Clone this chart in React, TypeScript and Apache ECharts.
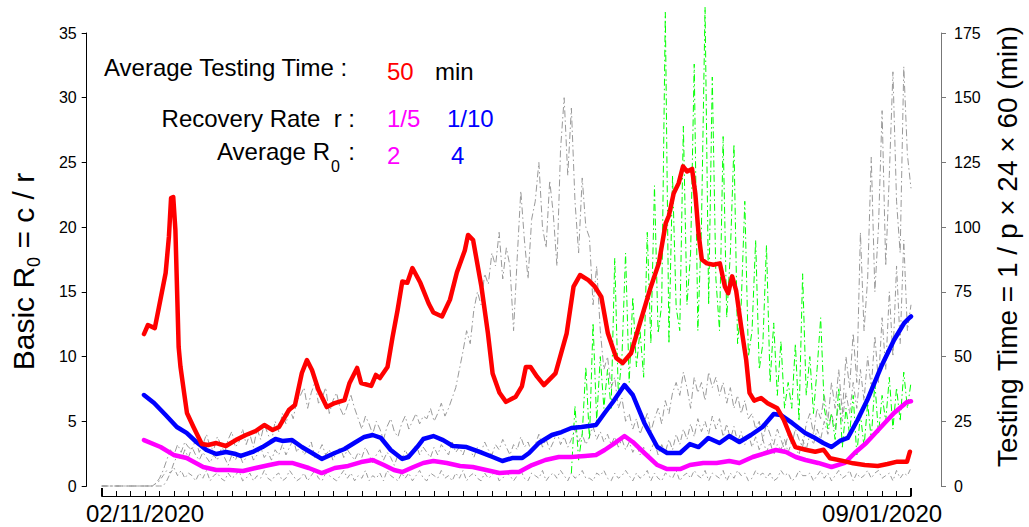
import React, { useEffect, useRef } from 'react';
import * as echarts from 'echarts';

const FONT = '"Liberation Sans", Arial, Helvetica, sans-serif';

// ---- axes ----
const dayMax = 224;
const xTickStep = 4;
const xTickLabels: { day: number; label: string }[] = [
  { day: 12, label: '02/11/2020' },
  { day: 216, label: '09/01/2020' },
];
const leftAxisMax = 35;
const leftAxisStep = 5;
const rightAxisMax = 175;
const rightAxisStep = 25;

// ---- R0 curves (left axis): [day, value] ----
const redR0: [number, number][] = [
  [11.7, 11.74], [12.8, 12.44], [14.7, 12.2], [15.8, 13.75], [17.7, 16.46], [18.6, 19.24], [19.2, 22.25], [19.8, 22.33],
  [20.4, 19.78], [21.3, 10.74], [21.8, 9.22], [22.7, 7.42], [23.6, 5.64], [25.4, 4.56], [27.7, 3.25], [29.5, 3.17],
  [31.7, 3.32], [34.4, 3.09], [37.1, 3.55], [39.9, 3.94], [42.6, 4.25], [45.0, 4.71], [47.3, 4.33], [49.1, 4.56],
  [51.8, 5.87], [53.5, 6.26], [55.4, 8.73], [56.8, 9.73], [58.2, 8.96], [60.0, 7.42], [62.3, 6.1], [64.5, 6.41],
  [67.2, 6.64], [68.6, 7.96], [70.7, 9.12], [71.8, 7.96], [74.6, 7.73], [75.9, 8.58], [77.0, 8.34], [79.1, 9.19],
  [80.5, 11.5], [81.9, 13.6], [83.2, 15.8], [84.6, 15.7], [86.0, 16.84], [88.2, 15.7], [90.5, 14.1], [91.8, 13.4],
  [94.2, 13.1], [96.4, 14.4], [98.3, 16.5], [100.5, 18.2], [101.4, 19.4], [102.8, 19.0], [105.1, 15.4], [106.9, 11.8],
  [108.2, 8.7], [110.1, 7.2], [111.9, 6.5], [114.6, 6.9], [116.3, 7.7], [117.4, 9.2], [118.7, 9.2], [120.5, 8.45],
  [122.4, 7.8], [125.6, 8.7], [128.7, 11.8], [130.6, 15.4], [132.4, 16.3], [134.7, 15.9], [136.5, 15.4], [138.3, 14.6],
  [140.1, 11.8], [142.4, 9.9], [144.2, 9.5], [146.5, 10.25], [149.2, 12.8], [152.0, 15.4], [154.2, 17.2], [156.1, 20.3],
  [157.0, 20.9], [158.3, 22.6], [159.7, 23.4], [160.9, 24.7], [162.0, 24.3], [163.4, 24.5], [164.3, 22.6], [165.2, 19.5],
  [166.1, 17.5], [167.5, 17.2], [169.3, 17.1], [171.1, 17.2], [172.5, 15.4], [173.4, 14.9], [174.5, 16.2], [175.6, 15.1],
  [177.0, 12.3], [178.4, 9.7], [179.3, 7.2], [180.6, 6.6], [182.5, 6.8], [184.3, 6.4], [187.0, 6.0], [188.8, 5.1],
  [190.7, 3.8], [192.0, 3.0], [194.8, 2.8], [197.5, 2.65], [199.8, 2.8], [201.6, 2.14], [204.8, 1.96], [208.0, 1.75],
  [211.2, 1.62], [214.8, 1.55], [217.5, 1.7], [220.2, 1.88], [222.9, 1.88], [223.7, 2.65],
];

const blueR0: [number, number][] = [
  [11.7, 7.03], [14.5, 6.41], [17.7, 5.49], [20.8, 4.56], [23.5, 4.1], [26.2, 3.4], [29.0, 2.78], [31.7, 2.47],
  [34.4, 2.63], [37.1, 2.47], [38.5, 2.32], [41.8, 2.63], [44.5, 3.01], [48.1, 3.63], [50.0, 3.48], [52.7, 3.55],
  [55.4, 3.01], [58.2, 2.55], [60.9, 2.09], [64.5, 2.55], [67.2, 2.86], [69.9, 3.32], [72.7, 3.79], [75.0, 3.94],
  [77.3, 3.71], [80.0, 2.78], [83.2, 2.09], [84.9, 2.24], [87.3, 3.01], [89.0, 3.63], [91.8, 3.86], [94.5, 3.55],
  [97.2, 3.09], [101.0, 3.01], [104.6, 2.63], [108.2, 2.24], [110.9, 1.93], [113.6, 2.16], [116.4, 2.16], [118.3, 2.55],
  [121.0, 3.32], [124.6, 3.94], [127.3, 4.17], [130.0, 4.48], [132.8, 4.56], [136.8, 4.71], [139.2, 5.64], [141.5, 6.49],
  [144.7, 7.8], [147.0, 7.03], [150.2, 4.87], [153.8, 3.01], [156.5, 2.55], [160.1, 2.55], [162.8, 3.24], [165.2, 3.01],
  [167.9, 3.71], [171.0, 3.32], [173.7, 3.86], [176.5, 3.4], [179.7, 3.94], [182.9, 4.56], [186.0, 5.56], [187.9, 5.49],
  [191.1, 4.87], [194.7, 4.1], [196.9, 3.79], [199.7, 3.32], [202.0, 3.01], [204.3, 3.48], [206.5, 3.71], [209.2, 5.1],
  [211.9, 6.64], [215.7, 9.19], [219.3, 11.28], [222.1, 12.59], [223.5, 12.98], [224.0, 13.1],
];

const magentaR0: [number, number][] = [
  [11.7, 3.55], [16.3, 3.01], [19.9, 2.4], [23.5, 2.16], [28.1, 1.47], [31.7, 1.24], [35.4, 1.24], [39.1, 1.16],
  [42.6, 1.39], [46.4, 1.62], [49.1, 1.78], [52.7, 1.78], [57.3, 1.39], [60.9, 1.0], [64.5, 1.39], [68.2, 1.55],
  [71.8, 1.85], [75.0, 2.01], [78.1, 1.62], [80.9, 1.24], [83.2, 1.08], [86.3, 1.47], [89.0, 1.78], [91.8, 1.93],
  [95.5, 1.78], [99.2, 1.55], [102.7, 1.47], [106.4, 1.24], [110.1, 1.0], [113.6, 1.08], [115.5, 1.08], [119.1, 1.62],
  [122.8, 2.01], [126.5, 2.24], [130.0, 2.24], [133.8, 2.32], [136.8, 2.4], [139.2, 2.78], [142.0, 3.32], [144.7, 3.86],
  [147.0, 3.4], [150.2, 2.55], [153.8, 1.62], [156.5, 1.31], [160.1, 1.31], [162.8, 1.62], [166.5, 1.78], [170.2, 1.78],
  [173.7, 1.93], [176.5, 1.78], [180.2, 2.24], [183.8, 2.55], [186.6, 2.78], [189.4, 2.63], [192.1, 2.24], [194.8, 2.01],
  [198.3, 1.78], [202.0, 1.47], [205.7, 1.78], [208.4, 2.55], [211.6, 3.32], [215.7, 4.56], [219.3, 5.64], [222.9, 6.49],
  [224.0, 6.55],
];

// ---- testing times (right axis, minutes), daily from day 0 ----
const grayTestA: number[] = [
  0, 0, 0, 0, 0, 0, 0, 0, 0, 0, 0, 0, 0, 0, 0,
  1, 3, 6, 10, 14, 12, 16, 13, 17, 15,
  14, 18, 13, 16, 20, 15, 14, 19, 16, 13, 18, 21, 15, 17, 22,
  16, 20, 15, 22, 18, 24, 20, 17, 25, 21, 28, 24, 30, 26, 33,
  35, 38, 30, 36, 40, 32, 34, 38, 28, 33, 36, 30, 27, 31, 35,
  30, 26, 22, 27, 24, 20, 25, 22, 18, 23, 26, 21, 19, 24, 27, 22, 25, 28, 24, 27,
  26, 30, 25, 28, 32, 27, 30, 34, 38, 45,
  52, 60, 55, 68, 75, 70, 82, 78, 90, 85,
  98, 80, 92, 85, 60, 88, 114, 95, 80, 103,
  110, 125, 100, 92, 118, 105, 85, 130, 150, 120,
  146, 110, 90, 119, 100, 96, 70, 85, 60, 45,
  50, 38, 42, 30, 34, 25, 28, 22, 26, 20,
  24, 28, 21, 26, 30, 24, 33, 28, 36, 40,
  35, 44, 38, 30, 42, 36, 40, 33, 44, 38,
  42, 35, 40, 32, 38, 30, 35, 28, 33, 26,
  28, 22, 25, 18, 24, 20, 16, 22, 18, 14,
  20, 16, 22, 18, 15, 24, 28, 20, 30, 26,
  35, 25, 40, 30, 45, 28, 50, 38, 59, 40,
  98, 60, 80, 127, 75, 100, 145, 85, 120, 160,
  110, 90, 162, 128, 115,
];

const grayTestB: number[] = [
  0, 0, 0, 0, 0, 0, 0, 0, 0, 0, 0, 0, 0, 0, 0, 0, 0, 0,
  2, 5, 9, 12, 10, 14, 11, 15, 12, 10, 13, 11,
  9, 12, 10, 14, 11, 8, 12, 10, 13, 9, 11, 14, 10, 12, 15, 11, 13, 10, 14, 12,
  16, 12, 15, 18, 13, 16, 12, 14, 17, 11, 13, 16, 12, 14, 10, 13, 15, 11, 14, 12,
  10, 13, 11, 15, 12, 9, 12, 14, 10, 13, 11, 8, 12, 10, 14, 11, 13, 16, 12, 15,
  13, 11, 15, 12, 16, 14, 12, 17, 13, 15, 12, 16, 14, 11, 15, 13, 17, 14, 12, 16,
  14, 18, 15, 12, 16, 14, 19, 15, 17, 13, 16, 20, 15, 18, 14, 17, 21, 16, 19, 15,
  18, 22, 17, 20, 16, 19, 23, 18, 21, 17, 20, 16, 19, 15, 18, 14, 17, 13, 16, 12,
  15, 11, 14, 17, 12, 16, 13, 18, 14, 20, 16, 22, 18, 24, 19, 26, 21, 25, 20, 27,
  22, 26, 19, 24, 18, 23, 17, 21, 16, 20, 15, 19, 14, 18, 13, 17, 12, 16, 14, 18,
  13, 17, 15, 12, 18, 14, 20, 16, 22, 18, 25, 20, 28, 22, 32, 25, 36, 28, 40, 30,
  45, 33, 50, 38, 58, 40, 65, 45, 75, 50, 85, 55, 95, 60, 70,
];

const grayTestC: number[] = [
  0, 0, 0, 0, 0, 0, 0, 0, 0, 0, 0, 0, 0, 0, 0,
  1, 2, 4, 6, 5, 7, 4, 6, 3, 5,
  4, 2, 5, 3, 6, 2, 4, 5, 3, 2,
  5, 3, 4, 6, 2, 3, 5, 2, 4, 3,
  6, 3, 2, 4, 5, 2, 3, 6, 4, 2,
  3, 5, 2, 4, 6, 3, 2, 5, 4, 3,
  2, 4, 6, 3, 5, 2, 4, 3, 6, 2,
  4, 3, 5, 2, 6, 4, 3, 2, 5, 3,
  5, 2, 4, 6, 3, 2, 5, 4, 3, 6,
  3, 4, 2, 5, 3, 6, 2, 4, 5, 3,
  2, 5, 3, 4, 6, 2, 3, 5, 4, 2,
  4, 6, 3, 2, 5, 4, 3, 6, 2, 4,
  5, 3, 6, 4, 2, 5, 3, 4, 6, 3,
  3, 2, 5, 4, 6, 3, 2, 5, 3, 4,
  6, 4, 2, 5, 3, 4, 6, 2, 5, 3,
  2, 5, 4, 3, 6, 2, 4, 5, 3, 6,
  4, 3, 6, 2, 5, 4, 3, 6, 2, 5,
  3, 6, 4, 5, 2, 3, 6, 4, 5, 3,
  5, 2, 3, 6, 4, 5, 2, 3, 6, 4,
  4, 5, 2, 4, 6, 3, 5, 2, 4, 6,
  3, 4, 6, 2, 5, 3, 4, 6, 3, 5,
  6, 3, 4, 5, 2, 6, 3, 5, 4, 7,
];

const greenStartDay = 130;
const greenTest: number[] = [
  5, 31, 10, 20, 46, 18, 63, 25, 50, 30,
  45, 30, 88, 35, 50, 90, 40, 73, 46, 60,
  42, 98, 55, 116, 59, 70, 183, 55, 120, 69,
  60, 139, 70, 90, 163, 60, 100, 185, 70, 158,
  80, 60, 135, 65, 90, 132, 55, 70, 110, 50,
  60, 95, 45, 55, 93, 40, 63, 35, 56, 30,
  40, 30, 55, 25, 82, 35, 50, 28, 45, 65,
  30, 22, 28, 18, 38, 15, 30, 20, 35, 12,
  28, 15, 32, 18, 40, 20, 35, 25, 42, 22,
  38, 25, 44, 30, 40,
];

// ---- annotation texts ----
const testingTimeLabel = 'Average Testing Time :';
const testingTimeValue = '50';
const testingTimeUnit = 'min';
const recoveryLabel = 'Recovery Rate  r :';
const recoveryValues = ['1/5', '1/10'];
const r0Label = 'Average R';
const r0Sub = '0';
const r0Values = ['2', '4'];

const leftTitle = '{a|Basic R}{s|0}{a| = c / r}';
const rightTitle = 'Testing Time = 1 / p \u00d7 24 \u00d7 60 (min)';

function txt(text: string, x: number, y: number, size: number, color: string, align: string = 'left') {
  return {
    type: 'text',
    x,
    y,
    silent: true,
    style: {
      text,
      fill: color,
      font: `${size}px ${FONT}`,
      fontSize: size,
      fontFamily: FONT,
      textAlign: align,
      align,
      textVerticalAlign: 'middle',
      verticalAlign: 'middle',
    },
  };
}

export default function App() {
  const ref = useRef<HTMLDivElement>(null);

  useEffect(() => {
    if (!ref.current) return;
    const chart = echarts.init(ref.current, undefined, { renderer: 'svg' });

    const daily = (arr: number[], start = 0) => arr.map((v, i) => [start + i, v]);
    const grayLine = (name: string, arr: number[], dash: number[]) => ({
      name,
      type: 'line',
      xAxisIndex: 0,
      yAxisIndex: 1,
      data: daily(arr),
      symbol: 'none',
      clip: false,
      lineStyle: { color: '#9a9a9a', width: 1, type: dash },
      z: 2,
    });
    const thick = (name: string, data: [number, number][], color: string, z: number) => ({
      name,
      type: 'line',
      xAxisIndex: 0,
      yAxisIndex: 0,
      data,
      symbol: 'none',
      clip: false,
      lineStyle: { color, width: 4.5, cap: 'round', join: 'round' },
      z,
    });

    chart.setOption({
      animation: false,
      backgroundColor: '#ffffff',
      textStyle: { fontFamily: FONT },
      grid: { left: 97, right: 112, top: 33, bottom: 41, containLabel: false },
      xAxis: [
        {
          type: 'value',
          position: 'bottom',
          min: 0,
          max: dayMax,
          interval: xTickStep,
          offset: 10,
          axisLine: { show: true, onZero: false, lineStyle: { color: '#000', width: 1.2 } },
          axisTick: { show: true, inside: true, length: 5, lineStyle: { color: '#000', width: 1 } },
          axisLabel: {
            show: true,
            margin: 5,
            fontSize: 24,
            fontFamily: FONT,
            color: '#000',
            formatter: (v: number) => {
              const t = xTickLabels.find((l) => l.day === v);
              return t ? t.label : '';
            },
          },
          splitLine: { show: false },
        },
        {
          type: 'value',
          position: 'bottom',
          min: 0,
          max: dayMax,
          interval: dayMax,
          offset: 10,
          axisLine: { show: false, onZero: false },
          axisTick: { show: true, inside: true, length: 8, lineStyle: { color: '#000', width: 2 } },
          axisLabel: { show: false },
          splitLine: { show: false },
        },
      ],
      yAxis: [
        {
          type: 'value',
          position: 'left',
          min: 0,
          max: leftAxisMax,
          interval: leftAxisStep,
          offset: 15,
          name: leftTitle,
          nameLocation: 'middle',
          nameRotate: 90,
          nameGap: 35,
          nameTextStyle: {
            color: '#000',
            fontFamily: FONT,
            padding: [0, 24, 0, 0],
            rich: {
              a: { fontSize: 30, lineHeight: 30, fontFamily: FONT, color: '#000', padding: [0, 0, 10, 0] },
              s: { fontSize: 18, lineHeight: 18, fontFamily: FONT, color: '#000', verticalAlign: 'bottom' },
            },
          },
          axisLine: { show: true, onZero: false, lineStyle: { color: '#000', width: 1 } },
          axisTick: { show: true, inside: false, length: 5, lineStyle: { color: '#000' } },
          axisLabel: { margin: 10, fontSize: 16, fontFamily: FONT, color: '#000' },
          splitLine: { show: false },
        },
        {
          type: 'value',
          position: 'right',
          min: 0,
          max: rightAxisMax,
          interval: rightAxisStep,
          offset: 30,
          name: rightTitle,
          nameLocation: 'middle',
          nameRotate: 90,
          nameGap: 52,
          nameTextStyle: { color: '#000', fontSize: 28, fontFamily: FONT, padding: [0, 0, 0, 26] },
          axisLine: { show: true, onZero: false, lineStyle: { color: '#777', width: 1 } },
          axisTick: { show: true, inside: false, length: 5, lineStyle: { color: '#777' } },
          axisLabel: { margin: 13, fontSize: 16, fontFamily: FONT, color: '#000' },
          splitLine: { show: false },
        },
      ],
      series: [
        grayLine('Testing time C', grayTestC, [5, 3, 1.5, 3]),
        grayLine('Testing time B', grayTestB, [6, 3, 1.5, 3]),
        grayLine('Testing time A', grayTestA, [7, 3, 1.5, 3]),
        {
          name: 'Testing time (green)',
          type: 'line',
          xAxisIndex: 0,
          yAxisIndex: 1,
          data: daily(greenTest, greenStartDay),
          symbol: 'none',
          clip: false,
          lineStyle: { color: '#00ff00', width: 1, type: [7, 3, 1.5, 3] },
          z: 3,
        },
        thick('R0 r=1/5', magentaR0, '#ff00ff', 4),
        thick('R0 r=1/10', blueR0, '#0000ff', 5),
        thick('R0 (50 min)', redR0, '#ff0000', 6),
      ],
      graphic: [
        txt(testingTimeLabel, 104, 67, 24, '#000'),
        txt(testingTimeValue, 387, 71, 24, '#ff0000'),
        txt(testingTimeUnit, 435, 71, 24, '#000'),
        txt(recoveryLabel, 355, 118, 24, '#000', 'right'),
        txt(recoveryValues[0], 387, 118, 24, '#ff00ff'),
        txt(recoveryValues[1], 447, 118, 24, '#0000ff'),
        txt(r0Label, 217, 151, 24, '#000'),
        txt(r0Sub, 331, 166, 16, '#000'),
        txt(':', 355, 151, 24, '#000', 'right'),
        txt(r0Values[0], 387, 155, 24, '#ff00ff'),
        txt(r0Values[1], 451, 155, 24, '#0000ff'),
      ],
    });

    return () => chart.dispose();
  }, []);

  return (
    <div
      ref={ref}
      style={{ position: 'fixed', left: 0, top: 0, width: 1029, height: 527, background: '#fff' }}
    />
  );
}
